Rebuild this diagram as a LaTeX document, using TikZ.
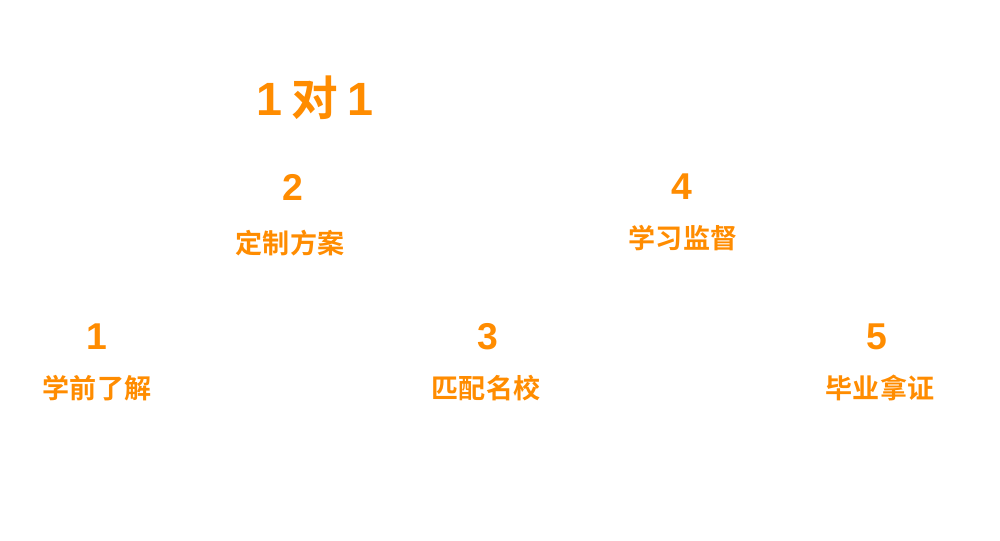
\documentclass[tikz,border=0pt]{standalone}
\usepackage{fontspec}
\setmainfont{Noto Sans CJK SC}[BoldFont={Noto Sans CJK SC Bold}]
\newfontfamily\digitfont{Liberation Sans}[BoldFont={Liberation Sans Bold}]
\definecolor{stepor}{HTML}{FF8C00}

\begin{document}
\begin{tikzpicture}[x=0.75pt,y=-0.75pt,
  num/.style={text=stepor,font=\digitfont\bfseries\fontsize{28}{28}\selectfont,inner sep=0pt},
  lab/.style={text=stepor,font=\bfseries\fontsize{20.3}{21}\selectfont,inner sep=0pt}]
\useasboundingbox[fill=white] (0,0) rectangle (1000,540);

\node[text=stepor,font=\bfseries\fontsize{35}{36}\selectfont,inner sep=0pt] (title) at (315,98)
  {{\digitfont 1}\hspace{0.2em}对\hspace{0.2em}{\digitfont 1}};

\node[num] (n2) at (293,187) {2};
\node[lab] (l2) at (290,243) {定制方案};

\node[num] (n4) at (682,187) {4};
\node[lab] (l4) at (683,238) {学习监督};

\node[num] (n1) at (97,337) {1};
\node[lab] (l1) at (97,388) {学前了解};

\node[num] (n3) at (488,337) {3};
\node[lab] (l3) at (486,388) {匹配名校};

\node[num] (n5) at (877,337) {5};
\node[lab] (l5) at (880,388) {毕业拿证};

\end{tikzpicture}
\end{document}
